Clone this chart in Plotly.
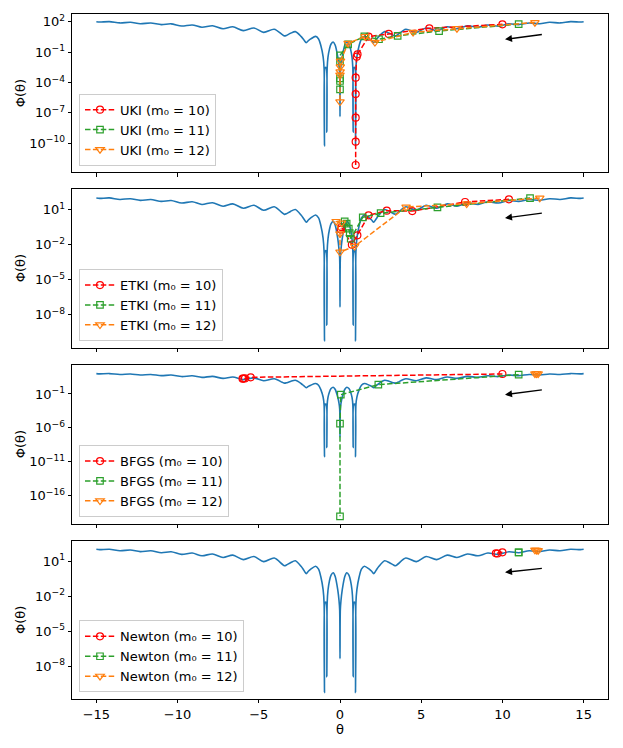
import plotly.graph_objects as go

# ---------------- data ----------------
# objective curve: theta and log10(Phi)
theta_curve = [-15.0, -14.8, -14.2, -13.55, -12.9, -12.3, -11.65, -11.0, -10.4, -9.75,
               -9.1, -8.5, -7.85, -7.2, -6.6, -5.95, -5.3, -4.7, -4.05, -3.55,
               -3.42, -3.3, -3.05, -2.75, -2.4, -2.22, -2.08, -1.95, -1.8, -1.5,
               -1.32, -1.18, -1.04, -0.98, -0.955, -0.93, -0.88, -0.835, -0.81, -0.79,
               -0.74, -0.65, -0.55, -0.42, -0.3, -0.14, -0.06, -0.02,
               0.0,
               0.02, 0.06, 0.14, 0.3, 0.42, 0.55, 0.65, 0.74, 0.79, 0.81,
               0.835, 0.88, 0.93, 0.955, 0.98, 1.04, 1.18, 1.32, 1.5, 1.8,
               1.95, 2.08, 2.22, 2.4, 2.75, 3.05, 3.3, 3.42, 3.55, 4.05,
               4.7, 5.3, 5.95, 6.6, 7.2, 7.85, 8.5, 9.1, 9.75, 10.4,
               11.0, 11.65, 12.3, 12.9, 13.55, 14.2, 14.8, 15.0]
log_phi_curve = [2.0, 1.97, 2.01, 1.88, 1.94, 1.8, 1.87, 1.71, 1.79, 1.57,
                 1.68, 1.45, 1.6, 1.3, 1.5, 1.12, 1.38, 0.95, 1.25, 0.72,
                 0.6, 0.65, 0.85, 1.02, 0.55, 0.2, -0.08, 0.12, 0.3, 0.55,
                 0.3, -0.35, -1.45, -2.6, -10.25, -2.6, -2.5, -2.6, -8.9, -2.6,
                 -1.5, -0.7, -0.2, 0.0, -0.3, -1.45, -2.4, -3.2,
                 -7.35,
                 -3.2, -2.4, -1.45, -0.3, 0.0, -0.2, -0.7, -1.5, -2.6, -8.9,
                 -2.6, -2.5, -2.6, -10.25, -2.6, -1.45, -0.35, 0.3, 0.55, 0.3,
                 0.12, -0.08, 0.2, 0.55, 1.02, 0.85, 0.65, 0.6, 0.72, 1.25,
                 0.95, 1.38, 1.12, 1.5, 1.3, 1.6, 1.45, 1.68, 1.57, 1.79,
                 1.71, 1.87, 1.8, 1.94, 1.88, 2.01, 1.97, 2.0]

# UKI iterates
uki10_theta = [10.0, 5.5, 3.0, 1.76, 1.08, 1.03, 0.965, 0.965, 0.965, 0.965, 0.965]
uki10_log = [1.74, 1.35, 0.79, 0.52, -1.22, -1.45, -3.52, -5.14, -7.47, -9.84, -12.14]
uki11_theta = [11.0, 6.1, 3.55, 2.4, 1.5, 0.5, 0.0, 0.0, 0.0, 0.0, 0.0]
uki11_log = [1.76, 1.08, 0.6, 0.27, 0.55, -0.23, -1.32, -1.9, -3.6, -3.85, -4.68]
uki12_theta = [12.0, 7.2, 4.5, 2.15, 1.55, 0.5, 0.03, 0.02, 0.01, 0.0, 0.0]
uki12_log = [1.93, 1.33, 0.95, -0.03, 0.55, -0.12, -1.88, -2.44, -2.93, -3.26, -5.9]

# ETKI iterates
etki10_theta = [10.4, 7.7, 4.45, 2.88, 1.76, 1.07, 0.73, 0.1, 0.05]
etki10_log = [1.89, 1.66, 0.88, 0.92, 0.52, -1.2, -2.0, -0.5, -0.7]
etki11_theta = [11.7, 6.0, 2.5, 1.4, 0.66, 0.6, 0.54, 0.41, 0.29]
etki11_log = [2.0, 1.2, 0.7, 0.35, -1.49, -1.0, -0.63, -0.2, 0.0]
etki12_theta = [12.3, 7.8, 4.07, 0.9, 0.0, 0.0, -0.24, 0.1]
etki12_log = [2.0, 1.51, 1.23, -2.14, -2.63, -1.06, 0.0, -0.14]

# BFGS iterates
bfgs10_theta = [10.0, -5.5, -5.85, -6.0, -5.95]
bfgs10_log = [1.95, 1.46, 1.3, 1.26, 1.27]
bfgs11_theta = [11.0, 2.36, 0.05, 0.0, 0.0]
bfgs11_log = [1.85, 0.38, -1.1, -5.38, -19.04]
bfgs12_theta = [12.0, 12.1, 12.2]
bfgs12_log = [2.0, 1.97, 2.0]

# Newton iterates
newton10_theta = [10.0, 9.6, 9.7]
newton10_log = [1.74, 1.66, 1.64]
newton11_theta = [11.0, 11.0]
newton11_log = [1.74, 1.74]
newton12_theta = [12.0, 12.2, 12.1]
newton12_log = [1.94, 1.9, 1.92]

method_names = ["UKI", "ETKI", "BFGS", "Newton"]
m0_values = [10, 11, 12]
x_ticks = [-15, -10, -5, 0, 5, 10, 15]
y_tick_exps = [[2, -1, -4, -7, -10], [1, -2, -5, -8], [-1, -6, -11, -16], [1, -2, -5, -8]]

# ---------------- styling / layout ----------------
# the page body adds an 8px offset, so the figure is drawn 8px smaller on each side
OFF = 8
W, H = 623 - 2 * OFF, 748 - 2 * OFF
FL, FR, FT, FB = 72.0, 608.4, 14.0, 699.0          # frame edges in screen pixels
ML, MT = FL - OFF, FT - OFF
MR = W - (FR - OFF)
MB = H - (FB - OFF)
FONT = "DejaVu Sans"
colors = ["#ff0000", "#2ca02c", "#ff7f0e"]
symbols = ["circle-open", "square-open", "triangle-down-open"]
msizes = [7, 6.5, 7.5]
dash = "5.5px,2.4px"

series = [
    [(uki10_theta, uki10_log), (uki11_theta, uki11_log), (uki12_theta, uki12_log)],
    [(etki10_theta, etki10_log), (etki11_theta, etki11_log), (etki12_theta, etki12_log)],
    [(bfgs10_theta, bfgs10_log), (bfgs11_theta, bfgs11_log), (bfgs12_theta, bfgs12_log)],
    [(newton10_theta, newton10_log), (newton11_theta, newton11_log), (newton12_theta, newton12_log)],
]

plot_w = W - ML - MR
plot_h = H - MT - MB
pix_domains = [(14, 172.3), (188.7, 347.7), (364.7, 523.7), (541, 699)]   # screen pixels
y_ranges = [[-12.86, 2.76], [-10.83, 2.8], [-20.13, 3.32], [-10.8, 2.71]]
arrows = [(0.26, 0.76), (0.29, 0.72), (-1.1, -0.37), (0.03, 0.38)]

fig = go.Figure()
layout = dict(
    template="none",
    width=W, height=H,
    margin=dict(l=ML, r=MR, t=MT, b=MB, pad=0, autoexpand=False),
    paper_bgcolor="white", plot_bgcolor="white",
    font=dict(family=FONT, size=13, color="black"),
    showlegend=True,
)
annotations = []

for i in range(4):
    sfx = "" if i == 0 else str(i + 1)
    xa, ya = "x" + sfx, "y" + sfx
    leg = "legend" + sfx
    top_pix, bot_pix = pix_domains[i]
    y0 = (FB - bot_pix) / plot_h
    y1 = (FB - top_pix) / plot_h

    fig.add_trace(go.Scatter(
        x=theta_curve, y=[10 ** v for v in log_phi_curve],
        mode="lines", line=dict(color="#1f77b4", width=1.6, shape="spline", smoothing=0.8),
        xaxis=xa, yaxis=ya, showlegend=False, hoverinfo="skip"))

    for j in range(3):
        th, lg = series[i][j]
        fig.add_trace(go.Scatter(
            x=th, y=[10 ** v for v in lg], mode="lines+markers",
            name=f"{method_names[i]} (m\u2080 = {m0_values[j]})",
            line=dict(color=colors[j], width=1.5, dash=dash),
            marker=dict(symbol=symbols[j], size=msizes[j], color=colors[j],
                        line=dict(color=colors[j], width=1.2)),
            xaxis=xa, yaxis=ya, legend=leg))

    xdict = dict(
        domain=[0, 1], anchor=ya, range=[-16.5, 16.5], automargin=False,
        tickvals=x_ticks, showticklabels=(i == 3),
        ticks="outside", ticklen=3.5, tickwidth=0.8, tickcolor="black",
        showline=True, linecolor="black", linewidth=0.8, mirror=True,
        showgrid=False, zeroline=False,
        tickfont=dict(family=FONT, size=13, color="black"),
    )
    if i == 3:
        xdict["title"] = dict(text="\u03b8", font=dict(family=FONT, size=13, color="black"), standoff=0)
    layout["xaxis" + sfx] = xdict
    exps = y_tick_exps[i]
    layout["yaxis" + sfx] = dict(
        domain=[y0, y1], anchor=xa, type="log", range=y_ranges[i], automargin=False,
        tickvals=[10 ** e for e in exps],
        ticktext=["10<sup>" + str(e).replace("-", "\u2212") + "</sup>" for e in exps],
        ticks="outside", ticklen=3.5, tickwidth=0.8, tickcolor="black",
        showline=True, linecolor="black", linewidth=0.8, mirror=True,
        showgrid=False, zeroline=False,
        tickfont=dict(family=FONT, size=13, color="black"),
    )
    # y-axis label placed at a fixed distance left of the frame (as in the reference)
    annotations.append(dict(
        text="\u03a6(\u03b8)", textangle=-90, xref="paper", yref="paper",
        x=(20 - FL) / plot_w, y=(y0 + y1) / 2, xanchor="center", yanchor="middle",
        showarrow=False, font=dict(family=FONT, size=13, color="black")))
    layout[leg] = dict(
        x=7 / plot_w, y=y0 + 6.6 / plot_h, xanchor="left", yanchor="bottom",
        bgcolor="rgba(255,255,255,0.8)", bordercolor="#cccccc", borderwidth=1,
        font=dict(family=FONT, size=13, color="black"),
        tracegroupgap=0, itemwidth=30,
    )
    hy, ty = arrows[i]
    annotations.append(dict(
        x=10.16, y=hy, ax=12.52, ay=ty, xref=xa, yref=ya, axref=xa, ayref=ya,
        text="", showarrow=True, arrowhead=2, arrowsize=1, arrowwidth=1.4, arrowcolor="black"))

layout["annotations"] = annotations
fig.update_layout(**layout)
fig.write_html("out.html")
